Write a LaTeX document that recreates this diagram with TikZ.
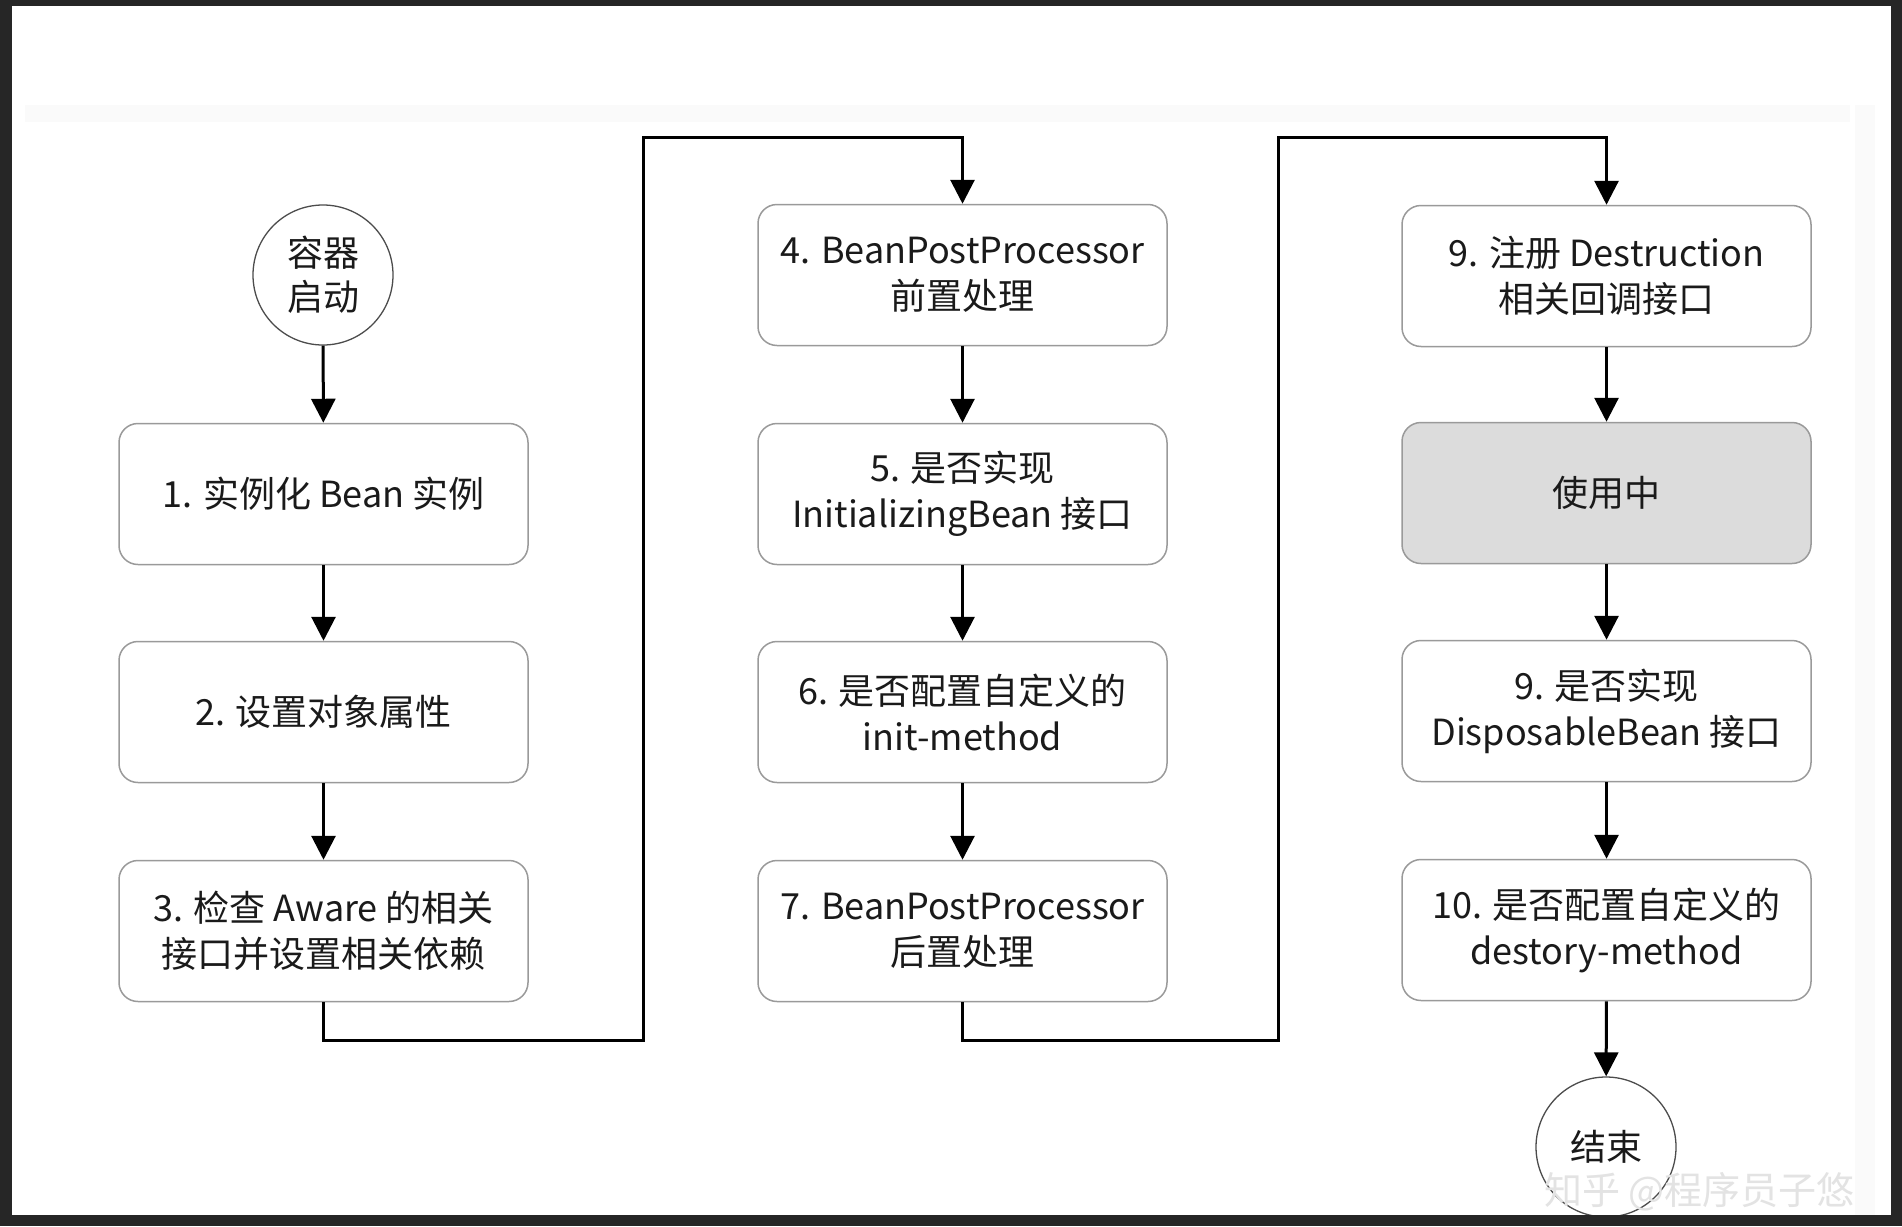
\documentclass[tikz,border=0pt]{standalone}
\usepackage{fontspec}
\newfontfamily\cjk{Noto Sans CJK SC}
\usetikzlibrary{arrows.meta}
\definecolor{framec}{HTML}{262626}
\definecolor{boxc}{HTML}{9A9A9A}
\definecolor{textc}{HTML}{1A1A1A}
\definecolor{usec}{HTML}{DCDCDC}
\tikzset{
  stepbox/.style={draw=boxc, line width=1.5pt, rounded corners=19pt, fill=white,
    minimum width=409pt, minimum height=141pt, inner sep=0pt, align=center,
    text=textc, font=\cjk\fontsize{36}{46}\selectfont},
  termnode/.style={circle, draw=black!70, line width=1.3pt, fill=white,
    minimum size=140pt, inner sep=0pt, align=center,
    text=textc, font=\cjk\fontsize{36}{44}\selectfont},
  flow/.style={-{Triangle[length=24pt,width=24pt]}, line width=3pt, draw=black, line join=miter},
}
\begin{document}
\begin{tikzpicture}[x=1pt,y=-1pt]
\useasboundingbox (0,0) rectangle (1902,1226);
\fill[framec] (0,0) rectangle (1902,1226);
\fill[white] (12,6) rectangle (1891,1215);
% faint screen shading
\fill[black!2] (25,105) rectangle (1850,122);
\fill[black!2] (1855,105) rectangle (1875,1215);

% nodes
\node[termnode] (start) at (323,275) {容器\\启动};
\node[stepbox] (b1) at (323.5,494) {1. 实例化 Bean 实例};
\node[stepbox] (b2) at (323.5,712) {2. 设置对象属性};
\node[stepbox] (b3) at (323.5,931) {3. 检查 Aware 的相关\\接口并设置相关依赖};

\node[stepbox] (b4) at (962.5,275) {4. BeanPostProcessor\\前置处理};
\node[stepbox] (b5) at (962.5,494) {5. 是否实现\\InitializingBean 接口};
\node[stepbox] (b6) at (962.5,712) {6. 是否配置自定义的\\init-method};
\node[stepbox] (b7) at (962.5,931) {7. BeanPostProcessor\\后置处理};

\node[stepbox] (b9) at (1606.5,276) {9. 注册 Destruction\\相关回调接口};
\node[stepbox, fill=usec] (use) at (1606.5,493) {使用中};
\node[stepbox] (b9b) at (1606.5,711) {9. 是否实现\\DisposableBean 接口};
\node[stepbox] (b10) at (1606.5,930) {10. 是否配置自定义的\\destory-method};
\node[termnode] (end) at (1606,1147) {结束};

% junctions
\coordinate (j1) at (643,1040);
\coordinate (j2) at (643,137);
\coordinate (j3) at (1278,1040);
\coordinate (j4) at (1278,137);

% connectors
\draw[flow] (start) -- (b1);
\draw[flow] (b1) -- (b2);
\draw[flow] (b2) -- (b3);
\draw[flow] (b3.south) |- (j1) -- (j2) -| (b4.north);
\draw[flow] (b4) -- (b5);
\draw[flow] (b5) -- (b6);
\draw[flow] (b6) -- (b7);
\draw[flow] (b7.south) |- (j3) -- (j4) -| (b9.north);
\draw[flow] (b9) -- (use);
\draw[flow] (use) -- (b9b);
\draw[flow] (b9b) -- (b10);
\draw[flow] (b10) -- (end);

% watermark
\node[text=black!11, font=\cjk\fontsize{38}{40}\selectfont, anchor=east] (wm) at (1858,1192) {知乎 @程序员子悠};

% frame overlay at the bottom (circle is cut by the screen edge)
\fill[framec] (0,1215) rectangle (1902,1226);
\fill[framec] (1891,0) rectangle (1902,1226);
\end{tikzpicture}
\end{document}
